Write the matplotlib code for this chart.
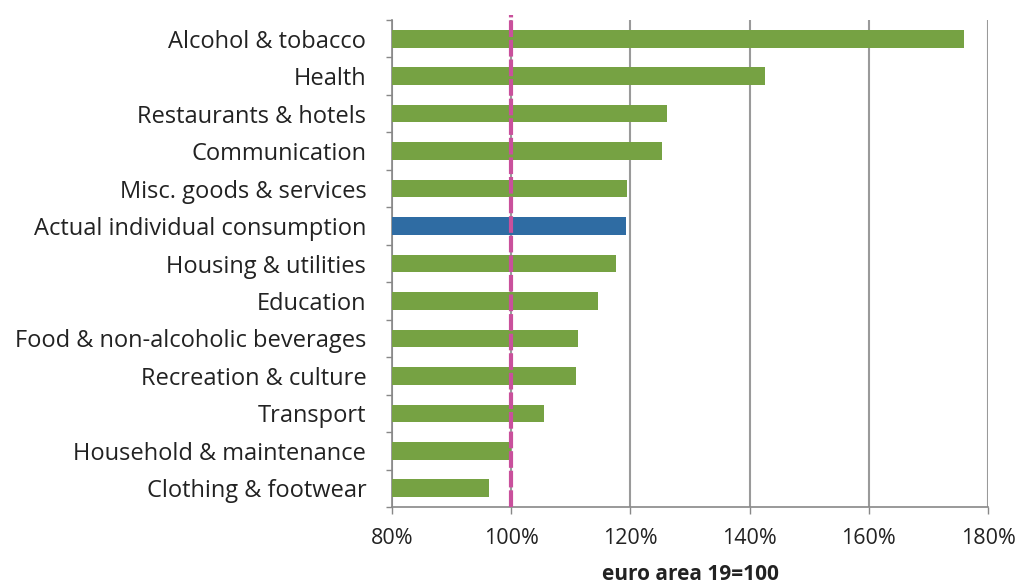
import numpy as np
import matplotlib.pyplot as plt

# Price levels relative to euro area (EA19 = 100)
categories = [
    "Alcohol & tobacco",
    "Health",
    "Restaurants & hotels",
    "Communication",
    "Misc. goods & services",
    "Actual individual consumption",
    "Housing & utilities",
    "Education",
    "Food & non-alcoholic beverages",
    "Recreation & culture",
    "Transport",
    "Household & maintenance",
    "Clothing & footwear",
]
values = [176.0, 142.5, 126.1, 125.3, 119.5, 119.2, 117.5, 114.6, 111.2, 110.8, 105.5, 100.0, 96.2]
highlight = "Actual individual consumption"
x_ticks = [80, 100, 120, 140, 160, 180]
reference = 100
x_label = "euro area 19=100"

plt.rcParams["font.family"] = ["Open Sans", "DejaVu Sans"]

fig = plt.figure(figsize=(10.21, 5.87), dpi=100)
ax = fig.add_axes([0.384, 0.1363, 0.5837, 0.8296])

green = "#76a243"
blue = "#2f6ca3"
colors = [blue if c == highlight else green for c in categories]

y = np.arange(len(categories))
base = x_ticks[0]
ax.barh(
    y,
    np.array(values) - base,
    left=base,
    height=0.47,
    color=colors,
    zorder=3
)

# Reference line at 100%
ax.axvline(
    reference,
    color="#c9509c",
    linewidth=3,
    linestyle=(0, (4, 0.7)),
    zorder=4,
    ymax=1.01,
    clip_on=False
)

ax.set_xlim(x_ticks[0], x_ticks[-1])
ax.set_ylim(len(categories) - 0.5, -0.5)
ax.set_xticks(x_ticks)
ax.set_xticklabels([f"{t}%" for t in x_ticks], fontsize=15.5, color="#222222")

ax.set_yticks(y)
ax.set_yticklabels(categories, fontsize=17, color="#222222")
ax.set_yticks(np.arange(len(categories) + 1) - 0.5, minor=True)
ax.tick_params(axis="y", which="major", length=0, pad=18.5)
ax.tick_params(axis="y", which="minor", length=4, color="#888888", width=1)
ax.tick_params(axis="x", length=5, color="#888888", width=1, pad=10)

ax.grid(axis="x", color="#9a9a9a", linewidth=1.5, zorder=0)
ax.set_axisbelow(True)

for side in ["top", "right"]:
    ax.spines[side].set_visible(False)
for side in ["left", "bottom"]:
    ax.spines[side].set_color("#888888")
    ax.spines[side].set_linewidth(1.2)

ax.set_xlabel(x_label, fontsize=15, fontweight="bold", color="#222222", labelpad=11)

fig.savefig("out.png", dpi=100)
